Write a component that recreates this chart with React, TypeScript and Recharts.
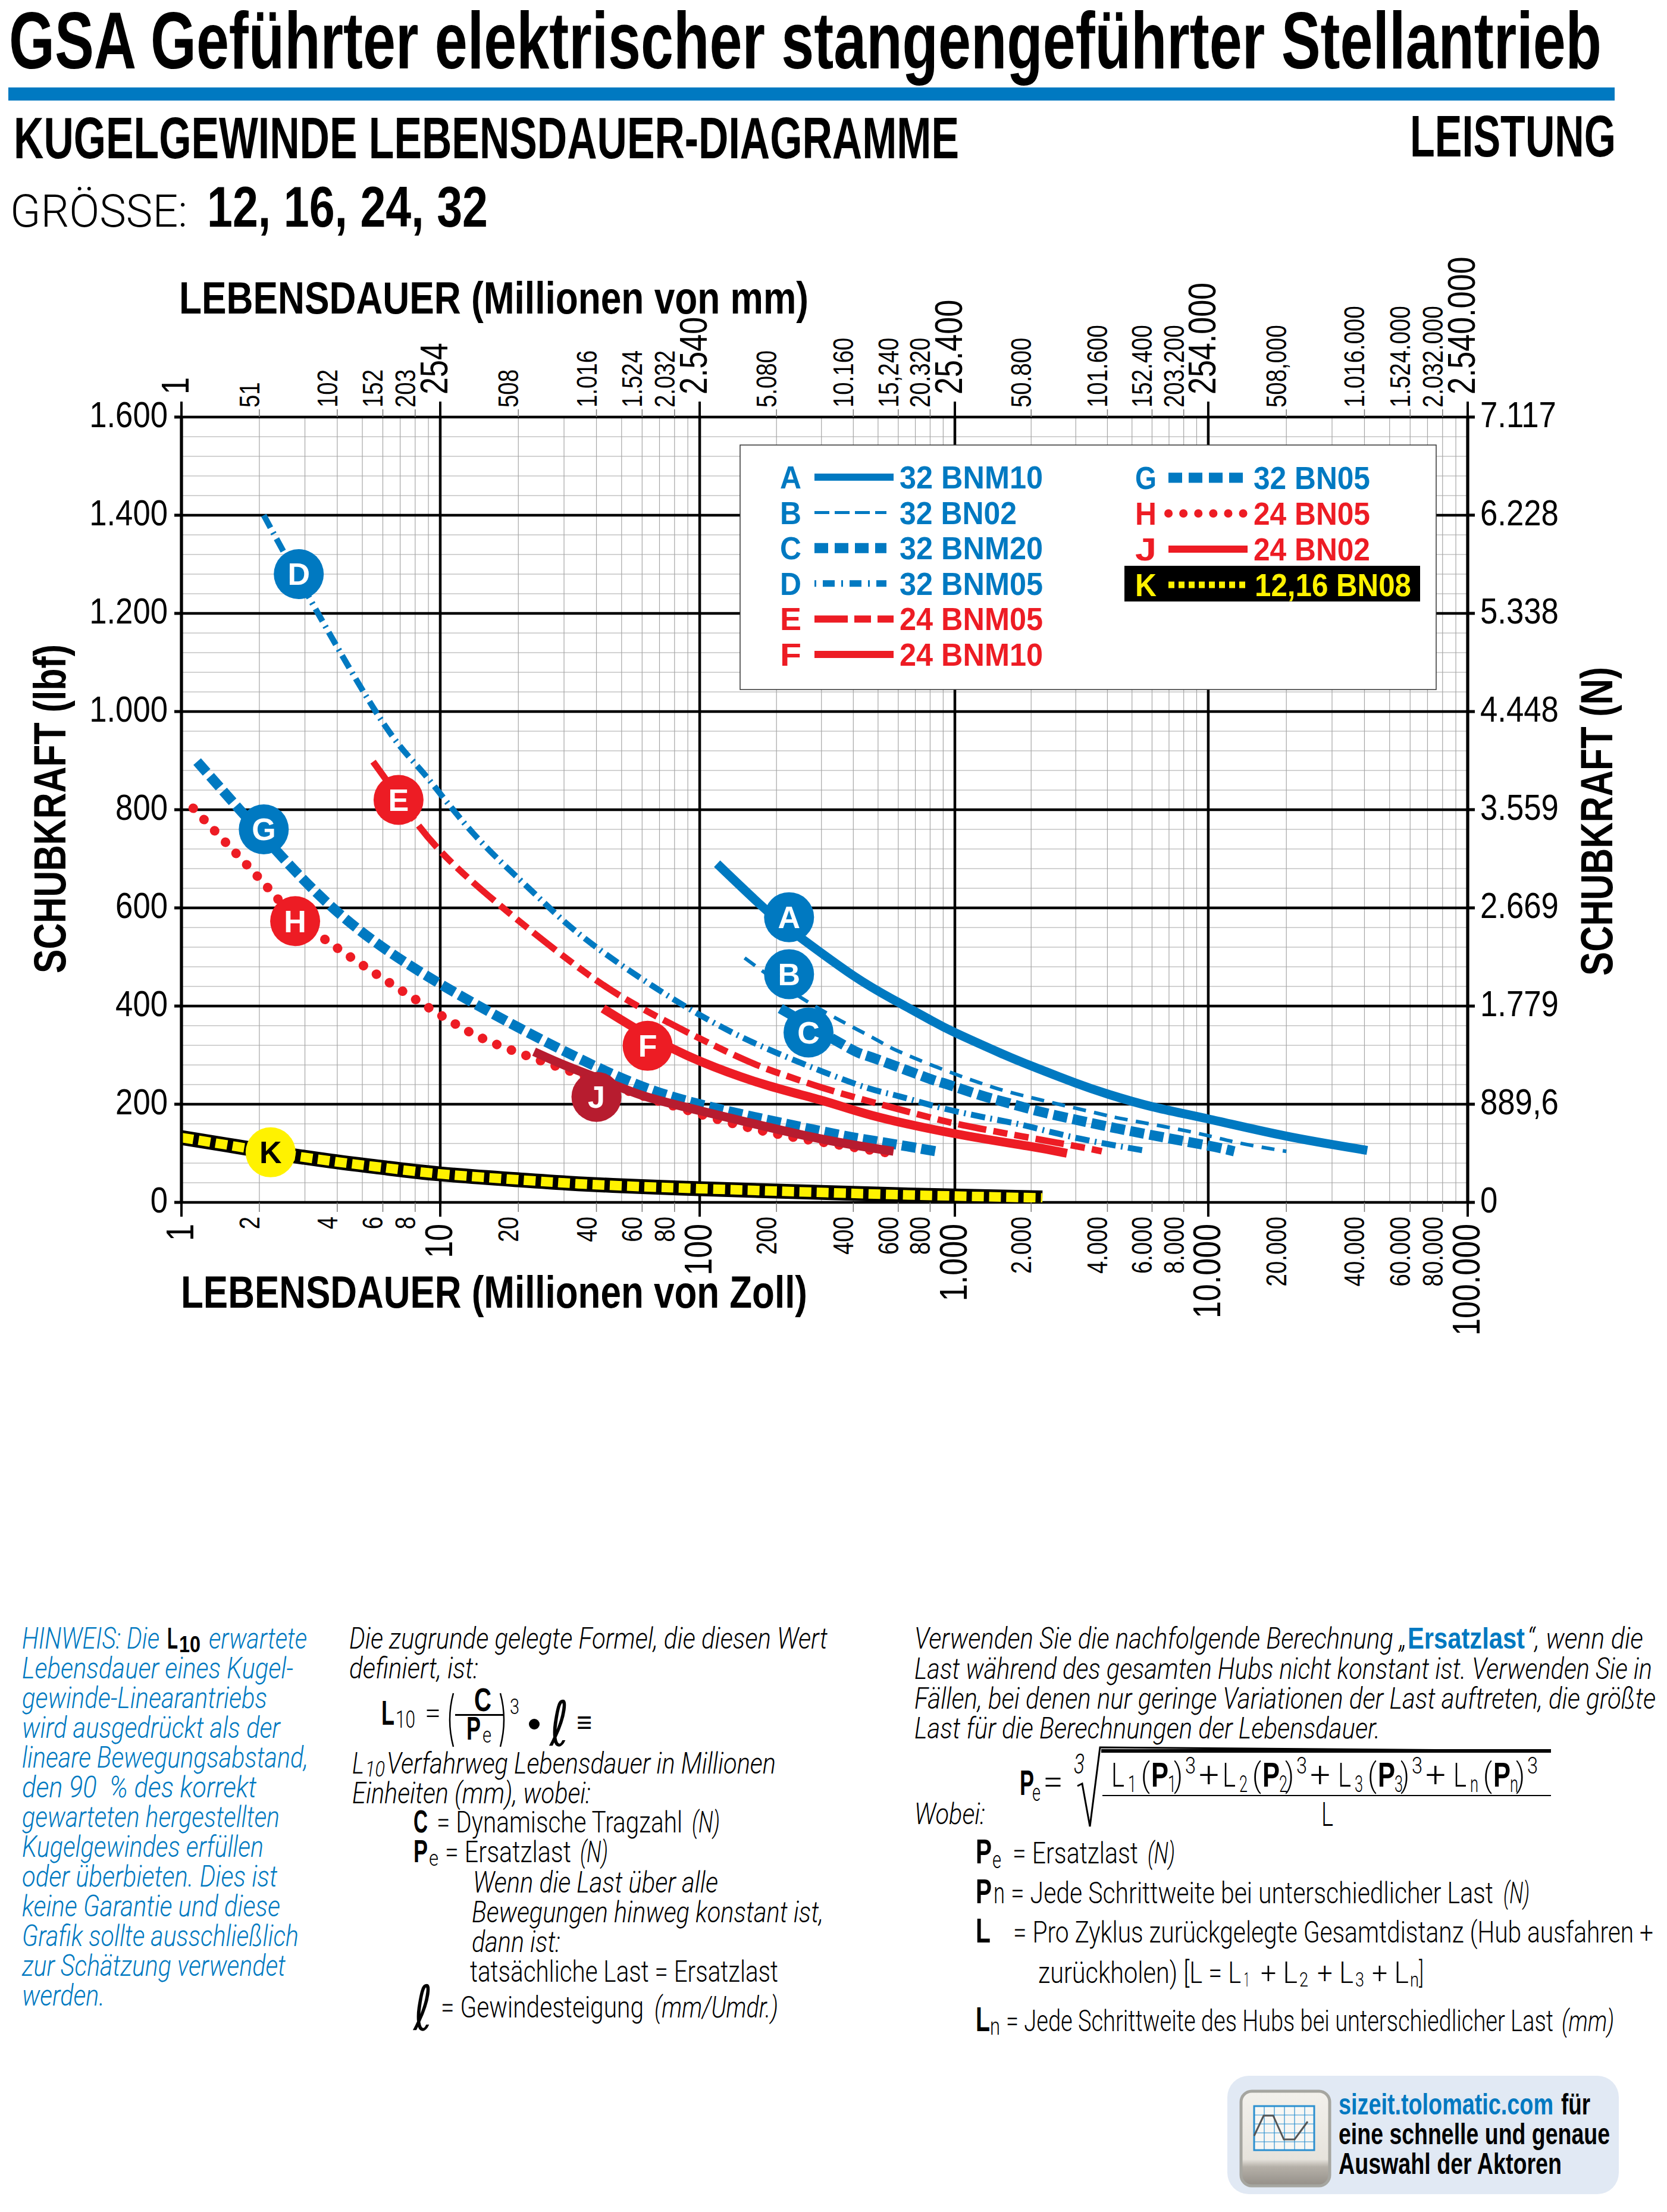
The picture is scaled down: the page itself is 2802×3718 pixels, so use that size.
import React from 'react';
import { ComposedChart, Line, XAxis, YAxis, CartesianGrid, ReferenceDot, Legend } from 'recharts';

const BLUE = '#0079c1';
const RED = '#ed1c24';
const DARKRED = '#b71c2f';
const FONT = '"Liberation Sans", Arial, sans-serif';
const LIGHTFONT = 'Roboto, "Liberation Sans", sans-serif';

// --- data (life in millions of inches, thrust in lbf) ---
const seriesA = [{x:117,y:690},{x:181,y:597},{x:252,y:537},{x:400,y:462},{x:570,y:414},{x:800,y:372},{x:1000,y:346},{x:1500,y:305},{x:1980,y:279},{x:3000,y:243},{x:4050,y:220},{x:6000,y:195},{x:10000,y:170},{x:20000,y:135},{x:41000,y:106}];
const seriesB = [{x:150,y:498},{x:272,y:405},{x:475,y:336},{x:594,y:309},{x:927,y:268},{x:1387,y:236},{x:1980,y:214},{x:3550,y:183},{x:4840,y:168},{x:8670,y:143},{x:12900,y:122},{x:20000,y:104}];
const seriesC = [{x:207,y:395},{x:380,y:316},{x:475,y:295},{x:776,y:254},{x:927,y:241},{x:1267,y:218},{x:1585,y:204},{x:2167,y:185},{x:3090,y:167},{x:4430,y:150},{x:7590,y:127},{x:10600,y:113},{x:12600,y:104}];
const seriesD = [{x:2.08,y:1400},{x:2.84,y:1270},{x:5.68,y:997},{x:8.57,y:876},{x:13.5,y:750},{x:23,y:630},{x:39,y:524},{x:100,y:382},{x:204,y:303},{x:305,y:266},{x:455,y:233},{x:607,y:216},{x:927,y:190},{x:1510,y:167},{x:1980,y:154},{x:3100,y:130},{x:5540,y:106}];
const seriesE = [{x:5.5,y:898},{x:6.9,y:825},{x:10,y:716},{x:19,y:584},{x:37,y:465},{x:65,y:385},{x:138,y:299},{x:213,y:260},{x:305,y:233},{x:485,y:203},{x:800,y:173},{x:1267,y:150},{x:2830,y:117},{x:3800,y:104}];
const seriesF = [{x:42.4,y:395},{x:63,y:340},{x:100,y:288},{x:180,y:240},{x:305,y:207},{x:475,y:177},{x:1000,y:140},{x:1980,y:114},{x:2770,y:100}];
const seriesG = [{x:1.15,y:898},{x:2.08,y:745},{x:3.96,y:594},{x:10,y:445},{x:39,y:279},{x:100,y:200},{x:270,y:150},{x:425,y:130},{x:620,y:116},{x:845,y:104}];
const seriesH = [{x:1.11,y:803},{x:2.14,y:643},{x:3.47,y:541},{x:10,y:382},{x:21.5,y:299},{x:100,y:180},{x:270,y:127},{x:560,y:100}];
const seriesJ = [{x:23,y:307},{x:30,y:280},{x:40,y:254},{x:60,y:218},{x:100,y:187},{x:270,y:134},{x:575,y:104}];
const seriesK = [{x:1,y:132},{x:1.5,y:117},{x:2.23,y:102},{x:3.8,y:84},{x:6,y:71},{x:10,y:58},{x:20,y:46},{x:34,y:38},{x:60,y:32},{x:100,y:28},{x:200,y:23},{x:570,y:16},{x:1000,y:13},{x:2215,y:9}];

const badges = [
  { id: 'A', x: 224, y: 581, fill: BLUE, text: '#fff' },
  { id: 'B', x: 224, y: 465, fill: BLUE, text: '#fff' },
  { id: 'C', x: 267, y: 346, fill: BLUE, text: '#fff' },
  { id: 'D', x: 2.84, y: 1280, fill: BLUE, text: '#fff' },
  { id: 'E', x: 6.9, y: 820, fill: RED, text: '#fff' },
  { id: 'F', x: 63, y: 319, fill: RED, text: '#fff' },
  { id: 'G', x: 2.08, y: 760, fill: BLUE, text: '#fff' },
  { id: 'H', x: 2.75, y: 573, fill: RED, text: '#fff' },
  { id: 'J', x: 40, y: 215, fill: DARKRED, text: '#fff' },
  { id: 'K', x: 2.21, y: 102, fill: '#fff200', text: '#000' },
];

const majorX = [1, 10, 100, 1000, 10000, 100000];
const labelledMinorX = [2,4,6,8,20,40,60,80,200,400,600,800,2000,4000,6000,8000,20000,40000,60000,80000];
const allMinorX = [2,3,4,5,6,7,8,9,20,30,40,50,60,70,80,90,200,300,400,500,600,700,800,900,2000,3000,4000,5000,6000,7000,8000,9000,20000,30000,40000,50000,60000,70000,80000,90000];
const bottomLabels: Record<number,string> = {1:'1',2:'2',4:'4',6:'6',8:'8',10:'10',20:'20',40:'40',60:'60',80:'80',100:'100',200:'200',400:'400',600:'600',800:'800',1000:'1.000',2000:'2.000',4000:'4.000',6000:'6.000',8000:'8.000',10000:'10.000',20000:'20.000',40000:'40.000',60000:'60.000',80000:'80.000',100000:'100.000'};
const topLabels: Record<number,string> = {1:'1',2:'51',4:'102',6:'152',8:'203',10:'254',20:'508',40:'1.016',60:'1.524',80:'2.032',100:'2.540',200:'5.080',400:'10.160',600:'15,240',800:'20.320',1000:'25.400',2000:'50.800',4000:'101.600',6000:'152.400',8000:'203.200',10000:'254.000',20000:'508,000',40000:'1.016.000',60000:'1.524.000',80000:'2.032.000',100000:'2.540.000'};
const leftTicks = [0,200,400,600,800,1000,1200,1400,1600];
const leftLabels = ['0','200','400','600','800','1.000','1.200','1.400','1.600'];
const rightTicks = [0,889.6,1779,2669,3559,4448,5338,6228,7117];
const rightLabels = ['0','889,6','1.779','2.669','3.559','4.448','5.338','6.228','7.117'];
const minorY = [40,80,120,160,240,280,320,360,440,480,520,560,640,680,720,760,840,880,920,960,1040,1080,1120,1160,1240,1280,1320,1360,1440,1480,1520,1560];

const legendCol1 = [
  { key: 'A', label: '32 BNM10', color: BLUE, width: 12, dash: undefined, short: false },
  { key: 'B', label: '32 BN02', color: BLUE, width: 5, dash: '25 9', short: true },
  { key: 'C', label: '32 BNM20', color: BLUE, width: 17, dash: '23 11', short: true },
  { key: 'D', label: '32 BNM05', color: BLUE, width: 11, dash: '3 11 20 11', short: true },
  { key: 'E', label: '24 BNM05', color: RED, width: 12, dash: '56 11 28 11 28 11', short: false },
  { key: 'F', label: '24 BNM10', color: RED, width: 12, dash: undefined, short: false },
];
const legendCol2 = [
  { key: 'G', label: '32 BN05', color: BLUE, width: 17, dash: '23 11' },
  { key: 'H', label: '24 BN05', color: RED, width: 14, dash: '0.1 25', round: true },
  { key: 'J', label: '24 BN02', color: RED, width: 12, dash: undefined },
  { key: 'K', label: '12,16 BN08', color: '#fff200', width: 11, dash: '10 7' },
];

const hinweisLines = [
  ['Lebensdauer eines Kugel-', 456], ['gewinde-Linearantriebs', 412], ['wird ausgedrückt als der', 434],
  ['lineare Bewegungsabstand,', 481], ['den 90  % des korrekt', 394], ['gewarteten hergestellten', 433],
  ['Kugelgewindes erfüllen', 406], ['oder überbieten. Dies ist', 429], ['keine Garantie und diese', 434],
  ['Grafik sollte ausschließlich', 465], ['zur Schätzung verwendet', 443], ['werden.', 139],
] as [string, number][];

const keyGridCols = [0, 1, 2, 3, 4, 5];
const keyGridRows = [0, 1, 2, 3, 4];

// --- axis scale: log scale with the decade positions of the printed grid ---
const decadeFractions = [0, 0.2012, 0.4029, 0.6013, 0.7983, 1];
function printedLogScale(): any {
  let dom: number[] = [1, 100000];
  let rng: number[] = [0, 1];
  const s: any = (v: number) => {
    const l = Math.log10(v);
    const i = Math.max(0, Math.min(4, Math.floor(l)));
    const f = decadeFractions[i] + (l - i) * (decadeFractions[i + 1] - decadeFractions[i]);
    return rng[0] + f * (rng[1] - rng[0]);
  };
  s.domain = (d?: number[]) => { if (d === undefined) return dom; dom = d; return s; };
  s.range = (r?: number[]) => { if (r === undefined) return rng; rng = r; return s; };
  s.copy = () => printedLogScale().domain(dom).range(rng);
  s.ticks = () => [...majorX];
  s.invert = (p: number) => p;
  return s;
}
const xScale = printedLogScale();

// --- text helpers ---
function T({ x, y, w, size, bold, italic, fill = '#000', anchor = 'start', light, family, children }: any) {
  return (
    <text x={x} y={y} fontFamily={family || (light ? LIGHTFONT : FONT)} fontSize={size} fontWeight={bold ? 700 : light ? 300 : 400} fontStyle={italic ? 'italic' : 'normal'}
      fill={fill} textAnchor={anchor} textLength={w} lengthAdjust="spacingAndGlyphs" xmlSpace="preserve">{children}</text>
  );
}
function R({ x, y, w, size, bold, children }: any) {
  return (
    <text transform={`translate(${x},${y}) rotate(-90)`} fontFamily={FONT} fontSize={size} fontWeight={bold ? 700 : 400}
      textLength={w} lengthAdjust="spacingAndGlyphs" fill="#000">{children}</text>
  );
}

const BottomTick = ({ x, y, payload }: any) => {
  const major = majorX.includes(payload.value);
  return (
    <g>
      <line x1={x} x2={x} y1={y} y2={y + (major ? 24 : 16)} stroke={major ? '#000' : '#777'} strokeWidth={major ? 4 : 1.5} />
      <text transform={`translate(${x + (major ? 20 : 0)},${y + (major ? 36 : 24)}) rotate(-90) scale(0.8,1)`} textAnchor="end" fontFamily={FONT}
        fontSize={major ? 65 : 48}>{bottomLabels[payload.value]}</text>
    </g>
  );
};
const TopTick = ({ x, y, payload }: any) => {
  const major = majorX.includes(payload.value);
  return (
    <g>
      <line x1={x} x2={x} y1={y} y2={y - (major ? 26 : 13)} stroke={major ? '#000' : '#777'} strokeWidth={major ? 4 : 1.5} />
      <text transform={`translate(${x + (major ? 12 : 0)},${y - (major ? 38 : 16)}) rotate(-90) scale(0.8,1)`} textAnchor="start" fontFamily={FONT}
        fontSize={major ? 65 : 48}>{topLabels[payload.value]}</text>
    </g>
  );
};
const LeftTick = ({ x, y, payload }: any) => (
  <g>
    <line x1={x} x2={x - 12} y1={y} y2={y} stroke="#000" strokeWidth={5} />
    <text transform={`translate(${x - 23},${y + 17}) scale(0.85,1)`} textAnchor="end" fontFamily={FONT} fontSize={62}>{leftLabels[leftTicks.indexOf(payload.value)]}</text>
  </g>
);
const RightTick = ({ x, y, payload }: any) => (
  <g>
    <line x1={x} x2={x + 12} y1={y} y2={y} stroke="#000" strokeWidth={5} />
    <text transform={`translate(${x + 21},${y + 17}) scale(0.85,1)`} textAnchor="start" fontFamily={FONT} fontSize={62}>{rightLabels[rightTicks.indexOf(payload.value)]}</text>
  </g>
);

const LegendBox = () => (
  <svg width={1172} height={413} style={{ display: 'block' }}>
    <rect x={1} y={1} width={1170} height={411} fill="#fff" stroke="#333" strokeWidth={1.5} />
    {legendCol1.map((r, i) => {
      const cy = 55 + i * 59.6;
      return (
        <g key={r.key}>
          <T x={68} y={cy + 19} w={36} size={53} bold fill={r.color}>{r.key}</T>
          <line x1={126} x2={r.short ? 247 : 259} y1={cy} y2={cy} stroke={r.color} strokeWidth={r.width} strokeDasharray={r.dash} />
          <T x={269} y={cy + 19} w={r.label.length === 7 ? 197 : 241} size={53} bold fill={r.color}>{r.label}</T>
        </g>
      );
    })}
    <rect x={647} y={204} width={497} height={60} fill="#000" />
    {legendCol2.map((r, i) => {
      const cy = 56 + i * 60;
      return (
        <g key={r.key}>
          <T x={665} y={cy + 19} w={36} size={53} bold fill={r.color}>{r.key}</T>
          <line x1={721} x2={854} y1={cy} y2={cy} stroke={r.color} strokeWidth={r.width} strokeDasharray={r.dash} strokeLinecap={r.round ? 'round' : 'butt'} />
          <T x={864 + (r.key === 'K' ? 2 : 0)} y={cy + 19} w={r.key === 'K' ? 263 : 196} size={53} bold fill={r.color}>{r.label}</T>
        </g>
      );
    })}
  </svg>
);

const Line2 = (props: any) => (
  <Line yAxisId="left" xAxisId="bottom" dataKey="y" type="natural" dot={false} activeDot={false} isAnimationActive={false} legendType="none" {...props} />
);

function PageText() {
  const numeratorOrigins = [1868, 2055, 2249, 2443];
  const numeratorSubs = ['1', '2', '3', 'n'];
  return (
    <svg width={2802} height={3718} style={{ position: 'absolute', left: 0, top: 0, pointerEvents: 'none' }}>
      <T x={15} y={115} w={2677} size={135} bold>GSA Geführter elektrischer stangengeführter Stellantrieb</T>
      <rect x={14} y={147} width={2700} height={22} fill={BLUE} />
      <T x={23} y={266} w={1589} size={98} bold>KUGELGEWINDE LEBENSDAUER-DIAGRAMME</T>
      <T x={2370} y={263} w={346} size={98} bold>LEISTUNG</T>
      <T x={17} y={381} w={298} size={76} light>GRÖSSE:</T>
      <T x={348} y={381} w={472} size={96} bold>12, 16, 24, 32</T>
      <T x={301} y={527} w={1058} size={76} bold>LEBENSDAUER (Millionen von mm)</T>
      <T x={304} y={2198} w={1053} size={76} bold>LEBENSDAUER (Millionen von Zoll)</T>
      <R x={110} y={1636} w={553} size={76} bold>SCHUBKRAFT (lbf)</R>
      <R x={2710} y={1640} w={519} size={76} bold>SCHUBKRAFT (N)</R>

      {/* note, blue column */}
      <T x={37} y={2771} w={231} size={50} italic fill={BLUE} light>HINWEIS: Die</T>
      <T x={281} y={2771} w={18} size={50} bold>L</T>
      <T x={301} y={2777} w={36} size={38} bold>10</T>
      <T x={351} y={2771} w={165} size={50} italic fill={BLUE} light>erwartete</T>
      {hinweisLines.map(([s, w], i) => (
        <T key={i} x={37} y={2821 + i * 50} w={w} size={50} italic fill={BLUE} light>{s}</T>
      ))}

      {/* middle column */}
      <T x={587} y={2771} w={804} size={50} italic light>Die zugrunde gelegte Formel, die diesen Wert</T>
      <T x={587} y={2821} w={217} size={50} italic light>definiert, ist:</T>
      <T x={641} y={2899} w={22} size={58} bold>L</T>
      <T x={665} y={2904} w={33} size={40} light>10</T>
      <T x={714} y={2896} w={27} size={50} light>=</T>
      <path d="M762 2846 Q750 2890 762 2936" fill="none" stroke="#000" strokeWidth={2.5} />
      <path d="M841 2846 Q853 2890 841 2936" fill="none" stroke="#000" strokeWidth={2.5} />
      <T x={797} y={2876} w={29} size={56} bold>C</T>
      <rect x={765} y={2881} width={81} height={3} fill="#000" />
      <T x={784} y={2924} w={24} size={56} bold>P</T>
      <T x={811} y={2929} w={15} size={36} light>e</T>
      <T x={857} y={2881} w={16} size={36} light>3</T>
      <circle cx={898} cy={2898} r={9} fill="#000" />
      <T x={924} y={2934} w={32} size={104} family='"DejaVu Sans", sans-serif'>ℓ</T>
      <T x={969} y={2912} w={26} size={50} light>≡</T>
      <T x={592} y={2981} w={20} size={50} italic light>L</T>
      <T x={614} y={2986} w={33} size={36} italic light>10</T>
      <T x={650} y={2981} w={654} size={50} italic light>Verfahrweg Lebensdauer in Millionen</T>
      <T x={592} y={3031} w={401} size={50} italic light>Einheiten (mm), wobei:</T>
      <T x={695} y={3080} w={24} size={54} bold>C</T>
      <T x={734} y={3080} w={413} size={50} light>= Dynamische Tragzahl</T>
      <T x={1163} y={3080} w={47} size={50} italic light>(N)</T>
      <T x={695} y={3130} w={24} size={54} bold>P</T>
      <T x={721} y={3136} w={16} size={36} light>e</T>
      <T x={748} y={3130} w={212} size={50} light>= Ersatzlast</T>
      <T x={975} y={3130} w={47} size={50} italic light>(N)</T>
      <T x={795} y={3181} w={412} size={50} italic light>Wenn die Last über alle</T>
      <T x={793} y={3231} w={591} size={50} italic light>Bewegungen hinweg konstant ist,</T>
      <T x={793} y={3281} w={149} size={50} italic light>dann ist:</T>
      <T x={790} y={3331} w={518} size={50} light>tatsächliche Last = Ersatzlast</T>
      <T x={695} y={3412} w={32} size={104} family='"DejaVu Sans", sans-serif'>ℓ</T>
      <T x={741} y={3391} w={341} size={50} light>= Gewindesteigung</T>
      <T x={1100} y={3391} w={208} size={50} italic light>(mm/Umdr.)</T>

      {/* right column */}
      <T x={1537} y={2771} w={827} size={50} italic light>Verwenden Sie die nachfolgende Berechnung „</T>
      <T x={2366} y={2771} w={197} size={50} bold fill={BLUE}>Ersatzlast</T>
      <T x={2567} y={2771} w={195} size={50} italic light>“, wenn die</T>
      <T x={1537} y={2822} w={1240} size={50} italic light>Last während des gesamten Hubs nicht konstant ist. Verwenden Sie in</T>
      <T x={1537} y={2872} w={1246} size={50} italic light>Fällen, bei denen nur geringe Variationen der Last auftreten, die größte</T>
      <T x={1537} y={2922} w={783} size={50} italic light>Last für die Berechnungen der Lebensdauer.</T>

      <T x={1714} y={3017} w={24} size={60} bold>P</T>
      <T x={1735} y={3027} w={14} size={40} light>e</T>
      <T x={1753} y={3015} w={34} size={58} light>=</T>
      <T x={1805} y={2981} w={18} size={46} italic light>3</T>
      <polyline points="1811,3002 1819,2998 1832,3070 1849,2937 2607,2943" fill="none" stroke="#000" strokeWidth={3} />
      <rect x={1851} y={2940} width={756} height={6} fill="#000" />
      {numeratorOrigins.map((o, i) => (
        <g key={i}>
          <T x={o} y={3003} w={22} size={56} light>L</T>
          <T x={o + 28} y={3012} w={14} size={38} light>{numeratorSubs[i]}</T>
          <T x={o + 50} y={3003} w={15} size={56} light>(</T>
          <T x={o + 67} y={3003} w={29} size={58} bold>P</T>
          <T x={o + 95} y={3012} w={14} size={38} light>{numeratorSubs[i]}</T>
          <T x={o + 105} y={3003} w={15} size={56} light>)</T>
          <T x={o + 124} y={2981} w={18} size={38} light>3</T>
          {i < 3 ? <T x={o + 147} y={3003} w={34} size={60} light>+</T> : null}
        </g>
      ))}
      <rect x={1853} y={3017} width={754} height={2} fill="#000" />
      <T x={2221} y={3069} w={20} size={56} light>L</T>
      <T x={1537} y={3066} w={119} size={50} italic light>Wobei:</T>

      <T x={1640} y={3132} w={27} size={58} bold>P</T>
      <T x={1668} y={3140} w={15} size={40} light>e</T>
      <T x={1702} y={3132} w={211} size={50} light>= Ersatzlast</T>
      <T x={1929} y={3132} w={46} size={50} italic light>(N)</T>
      <T x={1640} y={3199} w={27} size={58} bold>P</T>
      <T x={1670} y={3199} w={19} size={50} light>n</T>
      <T x={1699} y={3199} w={811} size={50} light>= Jede Schrittweite bei unterschiedlicher Last</T>
      <T x={2527} y={3199} w={44} size={50} italic light>(N)</T>
      <T x={1640} y={3265} w={25} size={58} bold>L</T>
      <T x={1703} y={3265} w={1076} size={50} light>= Pro Zyklus zurückgelegte Gesamtdistanz (Hub ausfahren +</T>
      <T x={1745} y={3333} w={341} size={50} light>zurückholen) [L = L</T>
      <T x={2091} y={3339} w={9} size={34} light>1</T>
      <T x={2119} y={3333} w={62} size={50} light>+ L</T>
      <T x={2184} y={3339} w={15} size={34} light>2</T>
      <T x={2214} y={3333} w={61} size={50} light>+ L</T>
      <T x={2278} y={3339} w={15} size={34} light>3</T>
      <T x={2306} y={3333} w={62} size={50} light>+ L</T>
      <T x={2370} y={3339} w={15} size={34} light>n</T>
      <T x={2385} y={3333} w={8} size={50} light>]</T>
      <T x={1640} y={3414} w={24} size={58} bold>L</T>
      <T x={1664} y={3420} w={17} size={40} light>n</T>
      <T x={1691} y={3414} w={920} size={50} light>= Jede Schrittweite des Hubs bei unterschiedlicher Last</T>
      <T x={2625} y={3414} w={88} size={50} italic light>(mm)</T>

      {/* badge */}
      <defs>
        <linearGradient id="keyFace" x1="0" y1="0" x2="0" y2="1">
          <stop offset="0" stopColor="#f3f1ec" />
          <stop offset="0.72" stopColor="#e6e3dc" />
          <stop offset="0.8" stopColor="#b5b0a8" />
          <stop offset="1" stopColor="#948f88" />
        </linearGradient>
      </defs>
      <rect x={2063} y={3489} width={658} height={199} rx={36} fill="#e1e9f4" />
      <rect x={2086} y={3515} width={149} height={159} rx={18} fill="url(#keyFace)" stroke="#a6a6a0" strokeWidth={5} />
      <rect x={2108} y={3540} width={101} height={74} fill="#f7f7f4" stroke="#2b8fd0" strokeWidth={3} />
      {keyGridCols.map((c) => <line key={c} x1={2108 + c * 17} x2={2108 + c * 17} y1={3540} y2={3614} stroke="#2b8fd0" strokeWidth={1.2} />)}
      {keyGridRows.map((r) => <line key={r} x1={2108} x2={2209} y1={3540 + r * 15} y2={3540 + r * 15} stroke="#2b8fd0" strokeWidth={1.2} />)}
      <polyline points="2108,3590 2124,3556 2140,3556 2158,3596 2176,3596 2198,3566" fill="none" stroke="#555" strokeWidth={3} />
      <T x={2250} y={3554} w={361} size={50} bold fill={BLUE}>sizeit.tolomatic.com</T>
      <T x={2624} y={3554} w={49} size={50} bold>für</T>
      <T x={2250} y={3604} w={456} size={50} bold>eine schnelle und genaue</T>
      <T x={2250} y={3654} w={375} size={50} bold>Auswahl der Aktoren</T>
    </svg>
  );
}

export default function App() {
  const allX = [...majorX, ...labelledMinorX].sort((a, b) => a - b);
  return (
    <div style={{ position: 'absolute', left: 0, top: 0, width: 2802, height: 3718, background: '#fff' }}>
      <ComposedChart width={2802} height={3718} margin={{ top: 601, right: 235, bottom: 1597, left: 205 }} style={{ fontFamily: FONT }}>
        <CartesianGrid xAxisId="bottom" yAxisId="left" stroke="#a6a6a6" strokeWidth={1.2} verticalValues={allMinorX} horizontalValues={minorY} />
        <CartesianGrid xAxisId="bottom" yAxisId="left" stroke="#000" strokeWidth={4.5} verticalValues={majorX} horizontalValues={leftTicks} />
        <XAxis xAxisId="bottom" type="number" dataKey="x" scale={xScale} domain={[1, 100000]} ticks={allX} interval={0} height={100}
          orientation="bottom" tickSize={0} tickMargin={0} tick={<BottomTick />} axisLine={false} tickLine={false} allowDataOverflow />
        <XAxis xAxisId="top" type="number" dataKey="x" scale={xScale} domain={[1, 100000]} ticks={allX} interval={0} height={100}
          orientation="top" tickSize={0} tickMargin={0} tick={<TopTick />} axisLine={false} tickLine={false} allowDataOverflow />
        <YAxis yAxisId="left" type="number" domain={[0, 1600]} ticks={leftTicks} interval={0} width={100} orientation="left"
          tickSize={0} tickMargin={0} tick={<LeftTick />} axisLine={{ stroke: '#000', strokeWidth: 5 }} tickLine={false} allowDataOverflow />
        <YAxis yAxisId="right" type="number" domain={[0, 7117]} ticks={rightTicks} interval={0} width={100} orientation="right"
          tickSize={0} tickMargin={0} tick={<RightTick />} axisLine={{ stroke: '#000', strokeWidth: 5 }} tickLine={false} allowDataOverflow />

        <Line2 name="H" data={seriesH} stroke={RED} strokeWidth={16} strokeDasharray="0.1 26" strokeLinecap="round" />
        <Line2 name="G" data={seriesG} stroke={BLUE} strokeWidth={17} strokeDasharray="24 9" />
        <Line2 name="E" data={seriesE} stroke={RED} strokeWidth={11} strokeDasharray="48 12 24 12 24 12" />
        <Line2 name="D" data={seriesD} stroke={BLUE} strokeWidth={10} strokeDasharray="24 9 3 9" />
        <Line2 name="C" data={seriesC} stroke={BLUE} strokeWidth={17} strokeDasharray="24 9" />
        <Line2 name="B" data={seriesB} stroke={BLUE} strokeWidth={6} strokeDasharray="22 14" />
        <Line2 name="F" data={seriesF} stroke={RED} strokeWidth={15} />
        <Line2 name="A" data={seriesA} stroke={BLUE} strokeWidth={15} />
        <Line2 name="J" data={seriesJ} stroke={DARKRED} strokeWidth={15} />
        <Line2 name="K" data={seriesK} stroke="#000" strokeWidth={25} />
        <Line2 name="K2" data={seriesK} stroke="#fff200" strokeWidth={16} strokeDasharray="20 9" />

        {badges.map((b) => (
          <ReferenceDot key={b.id} xAxisId="bottom" yAxisId="left" x={b.x} y={b.y} r={42} fill={b.fill} stroke="none"
            label={{ value: b.id, position: 'center', fill: b.text, fontSize: 52, fontWeight: 700, fontFamily: FONT }} />
        ))}
        <Legend content={<LegendBox />} layout="horizontal" verticalAlign="middle" align="center"
          wrapperStyle={{ left: 1243, top: 747, right: 'auto', bottom: 'auto', width: 1172, height: 413 }} />
      </ComposedChart>
      <PageText />
    </div>
  );
}
